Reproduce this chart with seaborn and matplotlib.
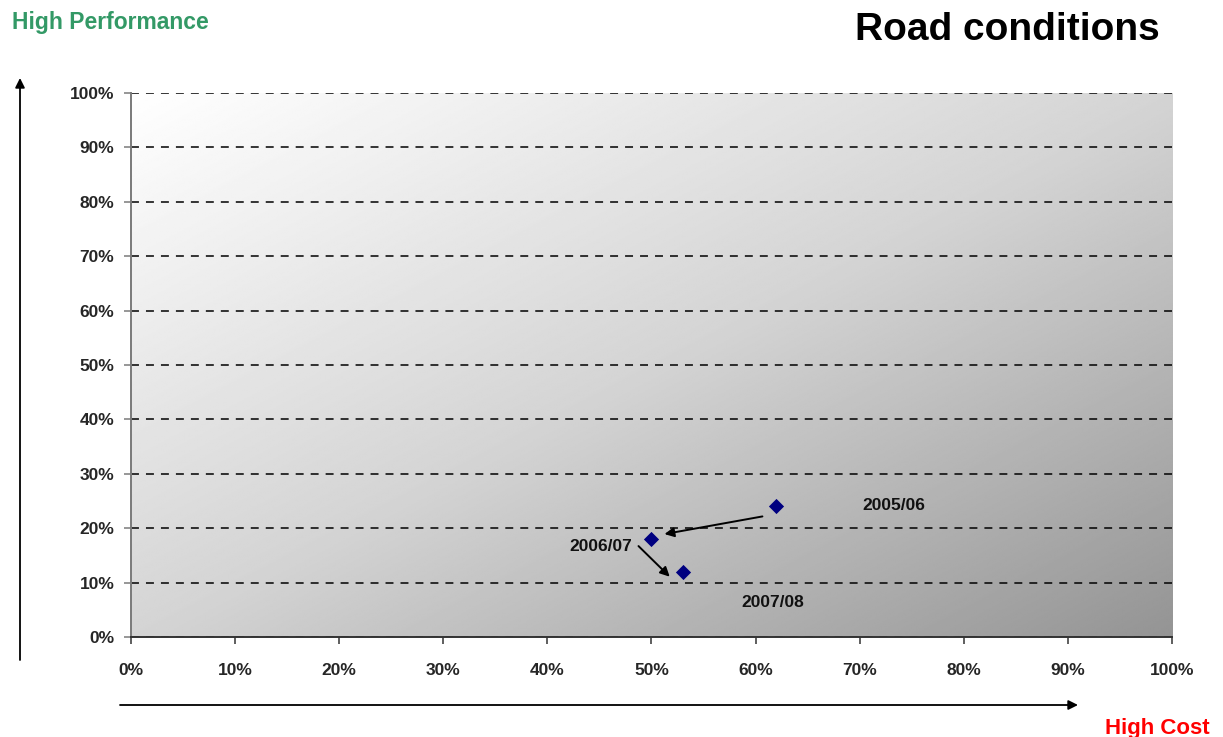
import numpy as np
import pandas as pd
import seaborn as sns
import matplotlib.pyplot as plt
import matplotlib.transforms as mtrans


# data (cost %, performance %)
years = ['2005/06', '2006/07', '2007/08']
cost = [62, 50, 53]
performance = [24, 18, 12]

ticks = list(range(0, 101, 10))
tick_labels = [f'{t}%' for t in ticks]

# label offsets from their point, in pixels
label_offsets = [(117, 1), (-51, -7), (90, -31)]


def gradient_bg(ax):
    # diagonal grey fill, white top-left to dark bottom-right
    xx, yy = np.meshgrid(np.linspace(0, 1, 400), np.linspace(1, 0, 400))
    u = (xx + (1 - yy)) / 2
    img = np.interp(u, [0, 0.5, 1], [255, 212, 148])
    ax.imshow(img, extent=[0, 100, 0, 100], origin='upper', aspect='auto',
              cmap='gray', vmin=0, vmax=255, zorder=-1, interpolation='bilinear')


def run():
    sns.set_theme(style='white')
    plt.rcParams['font.family'] = ['Liberation Sans', 'DejaVu Sans']
    plt.rcParams['font.weight'] = 'bold'

    df = pd.DataFrame({'year': years, 'cost': cost, 'performance': performance})

    fig = plt.figure(figsize=(12.23, 7.37), dpi=100)
    ax = fig.add_axes([0.1071, 0.1357, 0.8512, 0.7381])

    gradient_bg(ax)
    sns.scatterplot(data=df, x='cost', y='performance', marker='D', s=60,
                    color='#000080', edgecolor='#000080', linewidth=0, ax=ax, zorder=5)

    ax.set_xlim(0, 100)
    ax.set_ylim(0, 100)
    ax.set_xticks(ticks)
    ax.set_xticklabels(tick_labels, fontsize=12.5, fontweight='bold')
    ax.set_yticks(ticks)
    ax.set_yticklabels(tick_labels, fontsize=12.5, fontweight='bold')
    ax.set_xlabel('')
    ax.set_ylabel('')

    ax.yaxis.grid(True, color='black', linestyle=(0, (5.2, 4.6)), linewidth=1.1)
    ax.xaxis.grid(False)

    for s in ['top', 'right']:
        ax.spines[s].set_visible(False)
    ax.spines['left'].set_color('#7a7a7a')
    ax.spines['bottom'].set_color('#333333')
    ax.spines['left'].set_linewidth(1.4)
    ax.spines['bottom'].set_linewidth(1.4)
    ax.tick_params(axis='y', direction='out', length=5, width=1.1, color='#7a7a7a', pad=7, left=True)
    ax.tick_params(axis='x', direction='out', length=5, width=1.1, color='#333333', pad=14, bottom=True)

    # point labels
    for yr, cx, py, off in zip(years, cost, performance, label_offsets):
        ax.annotate(yr, xy=(cx, py), xytext=off, textcoords='offset pixels',
                    ha='center', va='center', fontsize=12.5, fontweight='bold', color='#111111')

    # arrows between the years, anchored to the points with pixel offsets
    def off(dx, dy):
        return mtrans.offset_copy(ax.transData, fig=fig, x=dx, y=dy, units='dots')

    arrow_style = dict(arrowstyle='-|>', color='black', lw=1.4, mutation_scale=14,
                       shrinkA=0, shrinkB=0)
    ax.annotate('', xy=(cost[1], performance[1]), xycoords=off(13, 5),
                xytext=(cost[0], performance[0]), textcoords=off(-14, -10),
                arrowprops=arrow_style, zorder=6)
    ax.annotate('', xy=(cost[2], performance[2]), xycoords=off(-13, -5),
                xytext=(cost[1], performance[1]), textcoords=off(-13, -7),
                arrowprops=arrow_style, zorder=6)

    # outer axis arrows
    fig_arrow = dict(arrowstyle='-|>', color='black', lw=1.3, mutation_scale=14,
                     shrinkA=0, shrinkB=0)
    fig.add_artist(plt.Annotation('', xy=(20, 659), xycoords='figure pixels',
                                  xytext=(20, 77), textcoords='figure pixels',
                                  arrowprops=fig_arrow))
    fig.add_artist(plt.Annotation('', xy=(1078, 32), xycoords='figure pixels',
                                  xytext=(120, 32), textcoords='figure pixels',
                                  arrowprops=fig_arrow))

    fig.text(12 / 1223, 1 - 22 / 737, 'High Performance', color='#339966',
             fontsize=16.5, fontweight='bold', ha='left', va='center')
    fig.text(1160 / 1223, 1 - 30 / 737, 'Road conditions', color='black',
             fontsize=28, fontweight='bold', ha='right', va='center')
    fig.text(1210 / 1223, 3 / 737, 'High Cost', color='#FF0000',
             fontsize=16, fontweight='bold', ha='right', va='baseline')

    fig.savefig('out.png', dpi=100)
    plt.close()


if __name__ == '__main__':
    run()
